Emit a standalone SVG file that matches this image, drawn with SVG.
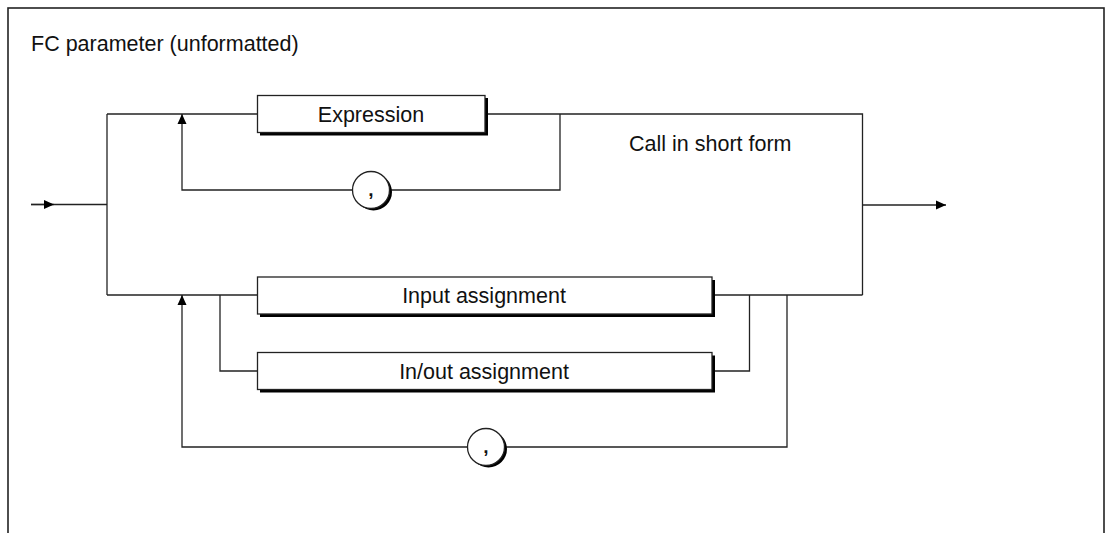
<svg xmlns="http://www.w3.org/2000/svg" width="1111" height="533" viewBox="0 0 1111 533">
<style>
text{font-family:"Liberation Sans",Arial,sans-serif;fill:#111;}
.t{font-size:21.5px;}
.c{font-size:19px;font-weight:bold;}
.box{fill:#fff;stroke:#222;stroke-width:1.3;}
.shadow{fill:#000;}
.ln{fill:none;stroke:#222;stroke-width:1.3;}
.frame{fill:#fff;stroke:#222;stroke-width:1.6;}
</style>
<defs>
<marker id="ah" viewBox="0 0 10 10" refX="10" refY="5" markerWidth="10" markerHeight="10" markerUnits="userSpaceOnUse" orient="auto">
<path d="M0,0.5 L10,5 L0,9.5 Z" fill="#000"/>
</marker>
</defs>
<rect class="frame" x="8" y="8" width="1096" height="540"/>
<text class="t" x="31" y="51">FC parameter (unformatted)</text>
<text class="t" x="629" y="151">Call in short form</text>
<g id="connectors">
<path class="ln" d="M31,204.5 H107"/>
<path class="ln" d="M31,204.5 H54" marker-end="url(#ah)"/>
<path class="ln" d="M107,114 V295"/>
<path class="ln" d="M107,114 H257"/>
<path class="ln" d="M485,114 H862.5 V295"/>
<path class="ln" d="M560,114 V190 H390"/>
<path class="ln" d="M353,190 H182 V114" marker-end="url(#ah)"/>
<path class="ln" d="M862.5,205 H946" marker-end="url(#ah)"/>
<path class="ln" d="M107,295 H257"/>
<path class="ln" d="M712,295 H862.5"/>
<path class="ln" d="M220,295 V371 H257"/>
<path class="ln" d="M712,371 H749.5 V295"/>
<path class="ln" d="M787,295 V447 H504"/>
<path class="ln" d="M467,447 H182 V295" marker-end="url(#ah)"/>
</g>
<g id="expression">
<rect class="shadow" x="260" y="98" width="228" height="37.5"/>
<rect class="box" x="257.5" y="95.5" width="227.5" height="37"/>
<text class="t" x="371" y="122" text-anchor="middle">Expression</text>
</g>
<g id="comma1">
<circle class="shadow" cx="373.5" cy="192" r="18.5"/>
<circle class="box" cx="371" cy="190" r="18.5"/>
<text class="c" x="371" y="196" text-anchor="middle">,</text>
</g>
<g id="input">
<rect class="shadow" x="260" y="280" width="455" height="37"/>
<rect class="box" x="257.5" y="277" width="454.5" height="37"/>
<text class="t" x="484" y="303" text-anchor="middle">Input assignment</text>
</g>
<g id="inout">
<rect class="shadow" x="260" y="355.5" width="455" height="37"/>
<rect class="box" x="257.5" y="352.5" width="454.5" height="37"/>
<text class="t" x="484" y="379" text-anchor="middle">In/out assignment</text>
</g>
<g id="comma2">
<circle class="shadow" cx="488.5" cy="449" r="18.5"/>
<circle class="box" cx="486" cy="447" r="18.5"/>
<text class="c" x="486" y="453" text-anchor="middle">,</text>
</g>
</svg>
